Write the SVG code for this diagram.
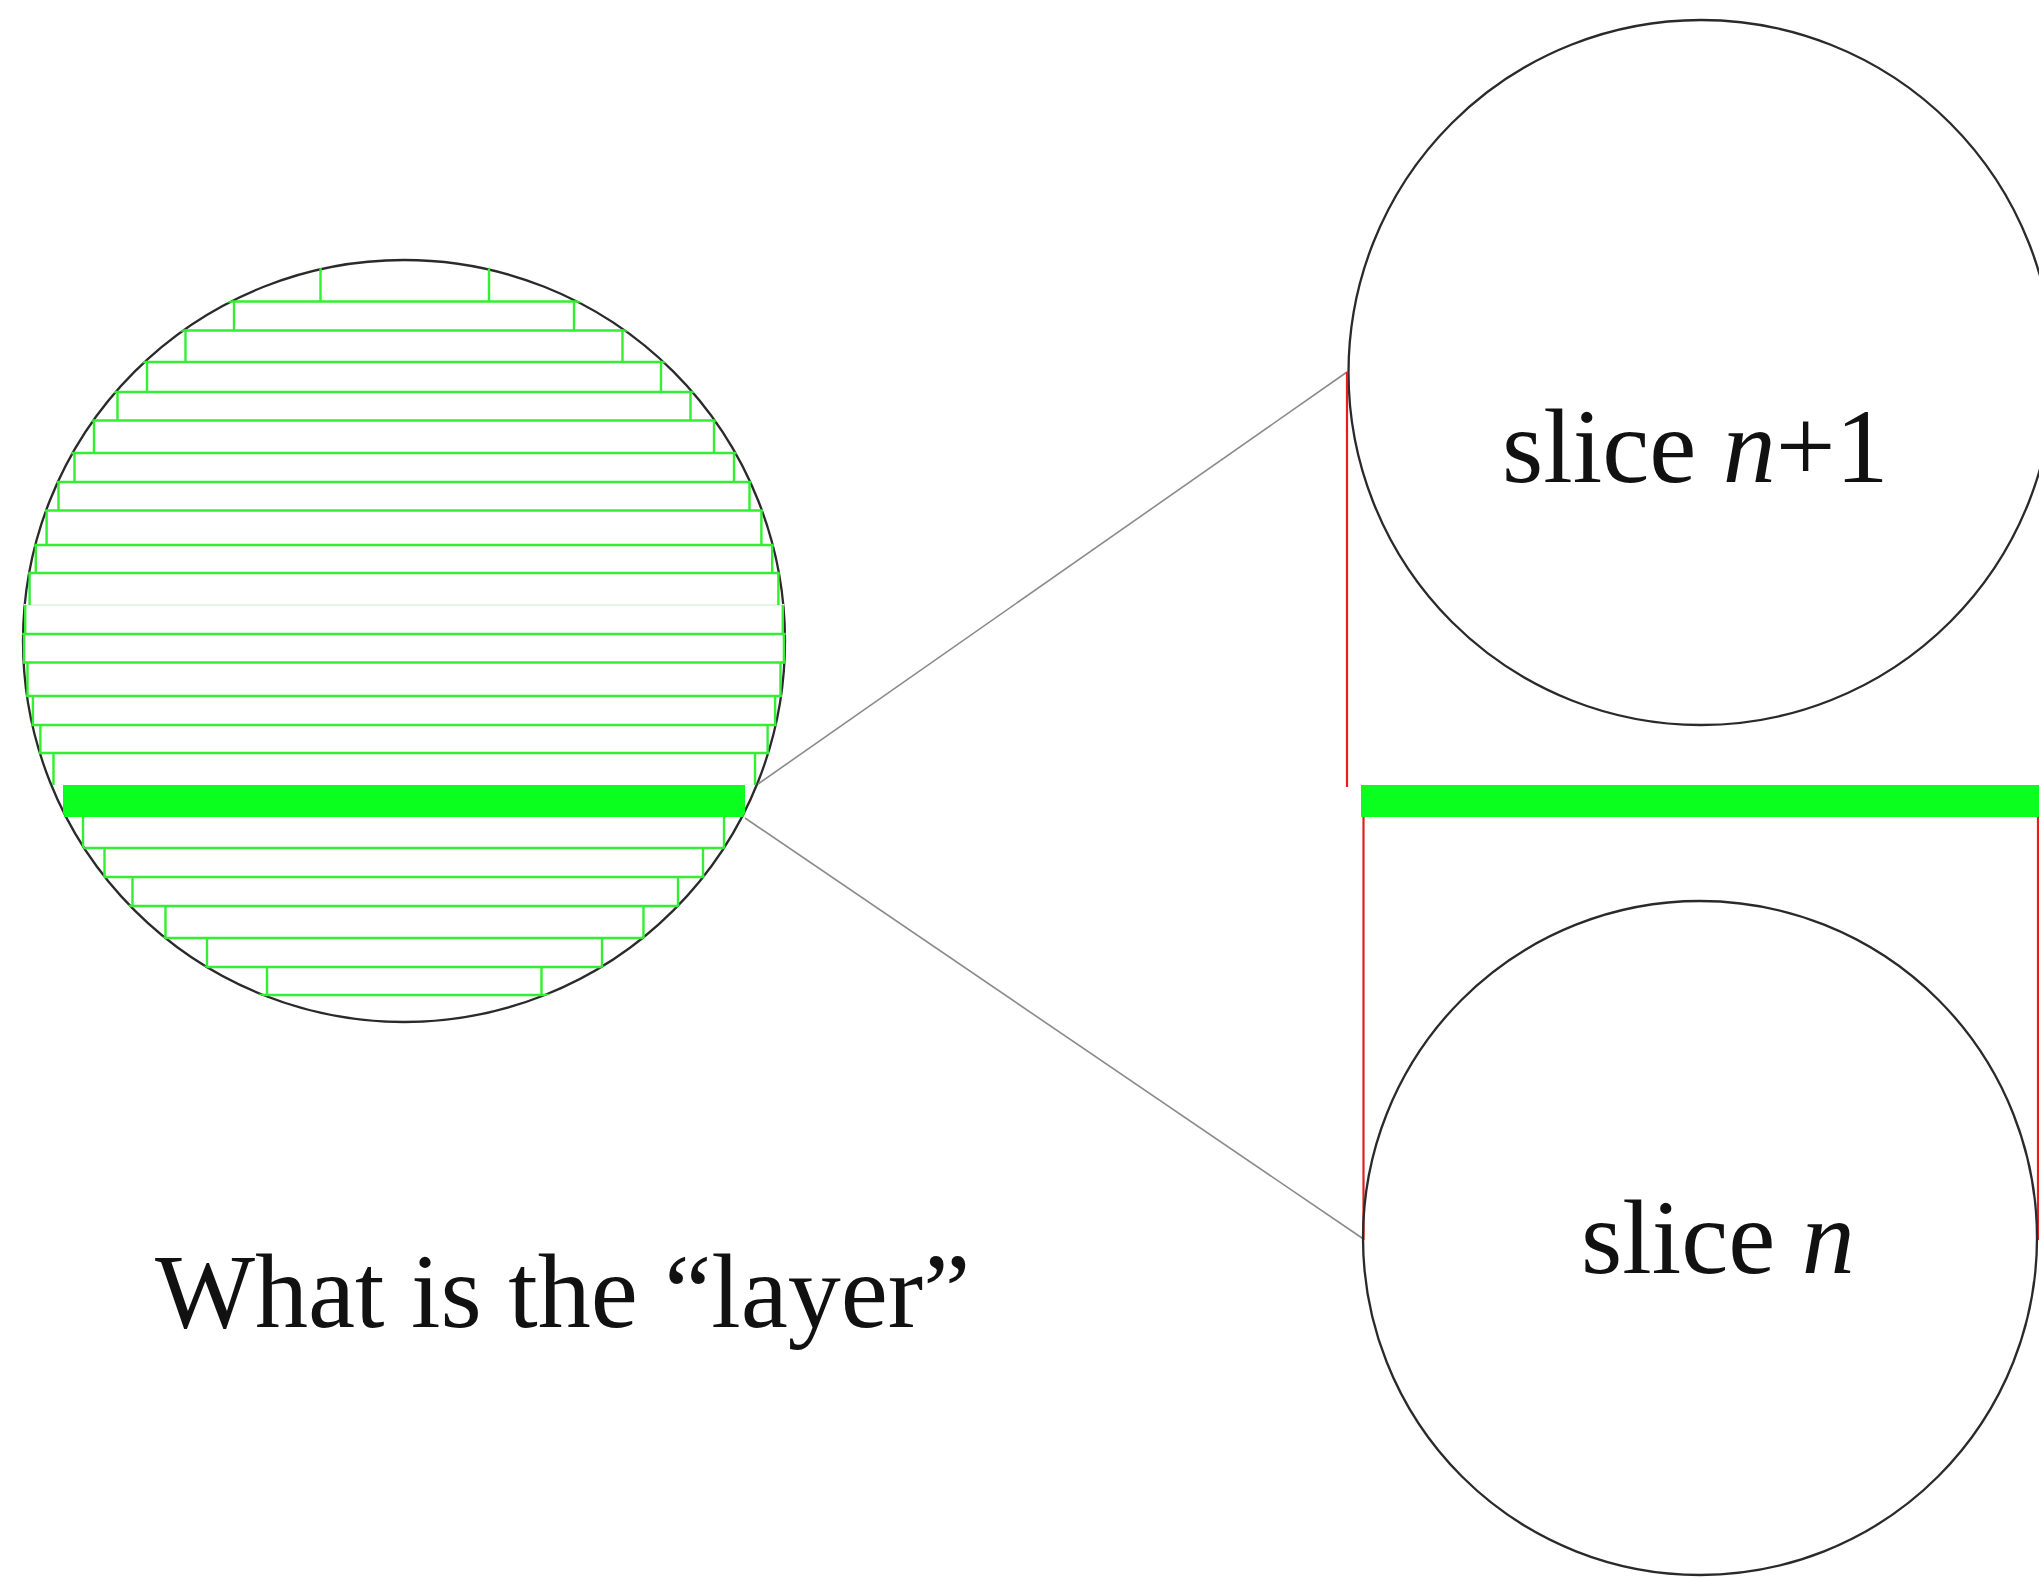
<svg xmlns="http://www.w3.org/2000/svg" width="2039" height="1579" viewBox="0 0 2039 1579">
<style>
.outline{fill:none;stroke:#2a2a2a;stroke-width:2.3}
.g{stroke:#33ee33;stroke-width:2.4;fill:none}
.gf{fill:#0aff1e;stroke:none}
.faint{stroke:#e4f6e4;stroke-width:2.2}
.red{stroke:#e41e1e;stroke-width:2.2;fill:none}
.conn{stroke:#8a8a8a;stroke-width:1.6;fill:none}
.lbl{font-family:"Liberation Serif","Times New Roman",serif;font-size:106px;fill:#111}
</style>
<defs>
<clipPath id="cc"><circle cx="404" cy="641" r="382"/></clipPath>
</defs>
<rect width="2039" height="1579" fill="#fff"/>

<g id="layered-circle">
<circle class="outline" cx="404" cy="641" r="381"/>
<g clip-path="url(#cc)">
<path class="g" d="M10 301.5H800M10 330.5H800M10 362H800M10 392H800M10 420.5H800M10 453H800M10 482H800M10 510.5H800M10 545H800M10 573H800M10 634H800M10 662.5H800M10 696H800M10 725H800M10 753H800M10 848H800M10 877H800M10 906H800M10 938H800M10 967H800M10 995H800"/>
<path class="faint" d="M10 605H800"/>
<path class="g" d="M320.5 268V301.5M489 268V301.5
M234 301.5V330.5M574 301.5V330.5
M185.5 330.5V362M622.5 330.5V362
M147 362V392M661 362V392
M117.5 392V420.5M690.5 392V420.5
M94 420.5V453M714 420.5V453
M74.5 453V482M734 453V482
M58.5 482V510.5M749.5 482V510.5
M46.6 510.5V545M761.4 510.5V545
M35.8 545V573M772.2 545V573
M29.6 573V605M778.4 573V605
M25.2 605V634M782.8 605V634
M24.1 634V662.5M783.9 634V662.5
M27.5 662.5V696M780.5 662.5V696
M32.9 696V725M775.1 696V725
M40.4 725V753M767.6 725V753
M53.5 753V785M755 753V785
M83 817V848M724 817V848
M104.5 848V877M703 848V877
M132.5 877V906M678 877V906
M165.5 906V938M643.5 906V938
M207 938V967M602 938V967
M267 967V995M541.5 967V995"/>
<rect class="gf" x="63" y="785" width="682" height="32"/>
</g>
</g>

<g id="connectors">
<line class="conn" x1="758" y1="784" x2="1347" y2="372"/>
<line class="conn" x1="745" y1="818" x2="1363.5" y2="1239"/>
</g>

<g id="slice-n1">
<circle class="outline" cx="1701" cy="372.5" r="352.5"/>
<text class="lbl" x="1502" y="482">slice <tspan font-style="italic">n</tspan>+1</text>
</g>

<g id="layer-bar">
<rect class="gf" x="1361" y="785" width="680" height="32"/>
<line class="red" x1="1347" y1="372" x2="1347" y2="787"/>
<line class="red" x1="1363.5" y1="817" x2="1363.5" y2="1240"/>
<line class="red" x1="2038" y1="817" x2="2038" y2="1240"/>
</g>

<g id="slice-n">
<circle class="outline" cx="1700" cy="1238" r="337"/>
<text class="lbl" x="1581" y="1273">slice <tspan font-style="italic">n</tspan></text>
</g>

<g id="caption">
<text class="lbl" x="155" y="1327">What is the “layer”</text>
</g>
</svg>
